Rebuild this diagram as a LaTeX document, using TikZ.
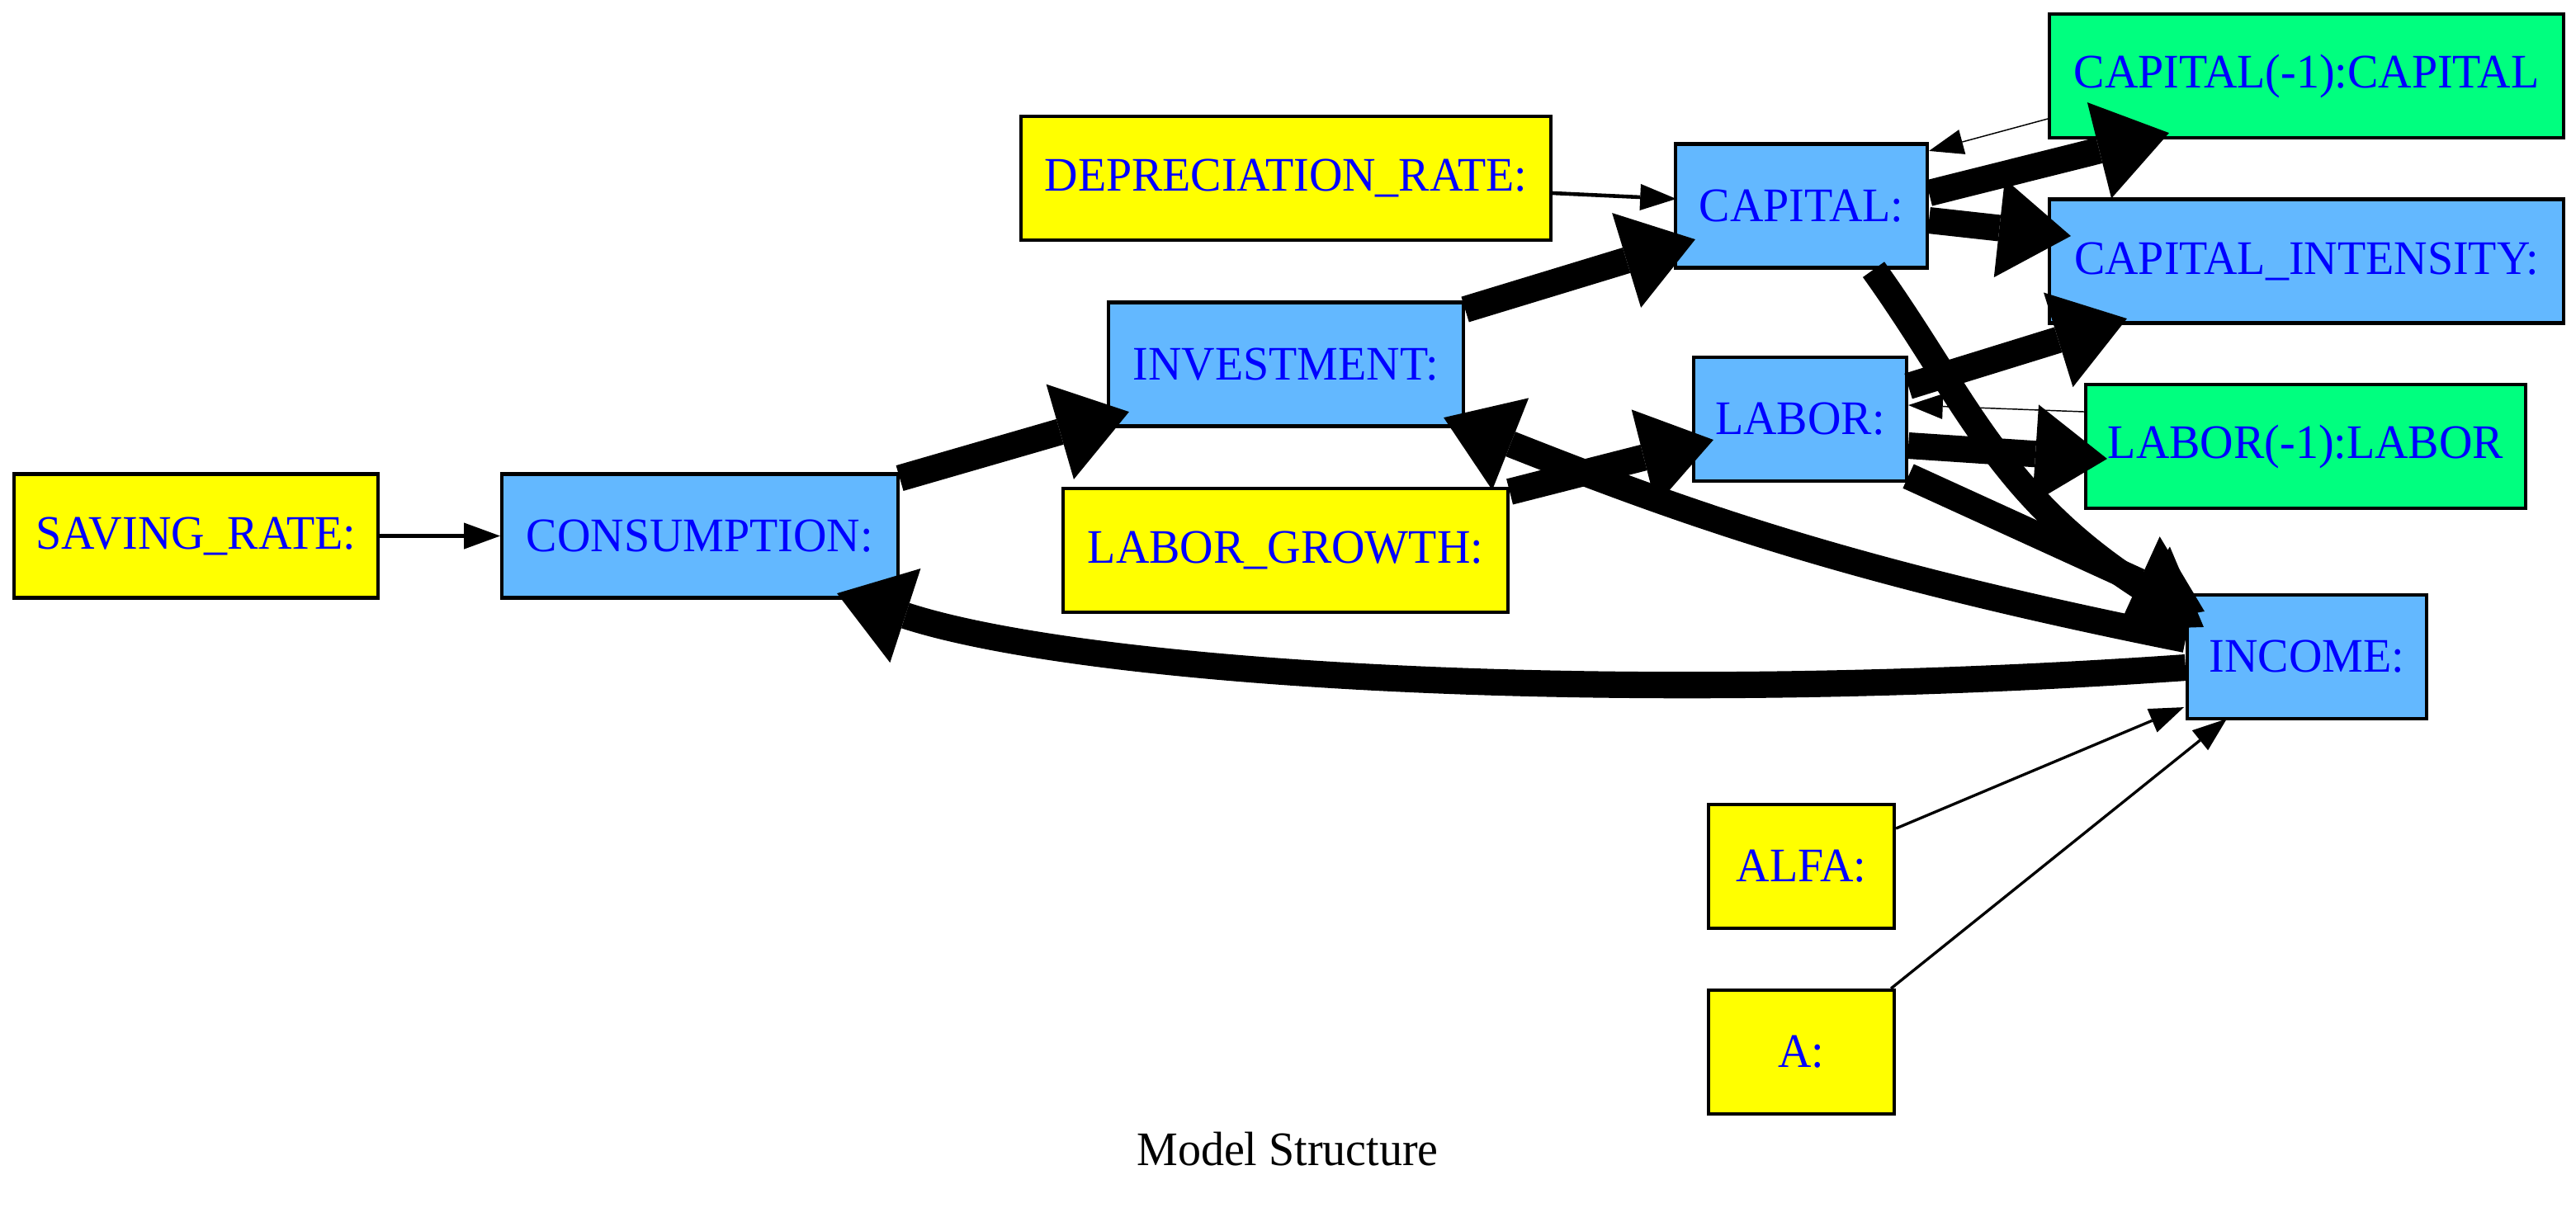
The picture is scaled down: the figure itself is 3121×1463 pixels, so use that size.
\documentclass[tikz,border=0pt]{standalone}
\usepackage{fontspec}
\setmainfont{Liberation Serif}[FakeStretch=0.96]
\usetikzlibrary{arrows.meta}
\definecolor{nyellow}{RGB}{255,255,0}
\definecolor{nblue}{RGB}{99,184,255}
\definecolor{ngreen}{RGB}{0,255,127}
\definecolor{tblue}{RGB}{0,0,255}
\begin{document}
\begin{tikzpicture}[x=0.24pt,y=-0.24pt,
  box/.style={draw=black, line width=1pt, minimum height=36pt, inner sep=0pt,
    font=\fontsize{14}{16}\selectfont, text=tblue},
  ybox/.style={box, fill=nyellow},
  bbox/.style={box, fill=nblue},
  gbox/.style={box, fill=ngreen},
  bigarrow/.style={line width=7.7pt, -{Triangle[length=20.9pt,width=28.8pt,line width=0pt]}},
  smallarrow/.style={line width=1.1pt, -{Triangle[length=10.5pt,width=7.7pt,line width=0pt]}},
  lightarrow/.style={line width=0.8pt, -{Triangle[length=10pt,width=7.4pt,line width=0pt]}},
  hairarrow/.style={line width=0.35pt, -{Triangle[length=10pt,width=7.4pt,line width=0pt]}}
]
\useasboundingbox[fill=white] (0,0) rectangle (3121,1463);

% nodes
\node[ybox, minimum width=105.84pt] (sr)   at (237.5,649.5) {SAVING\_RATE:};
\node[bbox, minimum width=115.2pt]  (cons) at (848,649.5)   {CONSUMPTION:};
\node[ybox, minimum width=154.08pt] (dep)  at (1558,216)    {DEPRECIATION\_RATE:};
\node[bbox, minimum width=103.2pt]  (inv)  at (1558,441.5)  {INVESTMENT:};
\node[ybox, minimum width=129.36pt] (lg)   at (1557.5,667)  {LABOR\_GROWTH:};
\node[bbox, minimum width=73.2pt]   (cap)  at (2182.5,249.5){CAPITAL:};
\node[bbox, minimum width=61.92pt]  (lab)  at (2181,508)    {LABOR:};
\node[gbox, minimum width=149.52pt] (capl) at (2794.5,92)   {CAPITAL(-1):CAPITAL};
\node[bbox, minimum width=149.52pt] (ci)   at (2794.5,316.5){CAPITAL\_INTENSITY:};
\node[gbox, minimum width=127.92pt] (labl) at (2793.5,541)  {LABOR(-1):LABOR};
\node[bbox, minimum width=69.6pt]   (inc)  at (2795,796)    {INCOME:};
\node[ybox, minimum width=54pt]     (alfa) at (2182.5,1050) {ALFA:};
\node[ybox, minimum width=54pt]     (a)    at (2182.5,1275) {A:};
\node[font=\fontsize{14}{16}\selectfont] (title) at (1560,1393) {Model Structure};

% thin edges
\draw[smallarrow] (sr.east) -- (cons.west);
\draw[smallarrow] ([shift={(0,18)}]dep.east) -- ([shift={(3,-8.5)}]cap.west);
\draw[hairarrow] ([shift={(0,52)}]capl.west) -- ([shift={(0,10.5)}]cap.north east);
\draw[hairarrow] ([shift={(0,-42)}]labl.west) -- ([shift={(0,-17)}]lab.east);
\draw[lightarrow] ([shift={(0,-46)}]alfa.east) -- ([shift={(-2,-16)}]inc.south west);
\draw[lightarrow] ([shift={(-6,0)}]a.north east) -- ([shift={(50,-2)}]inc.south west);

% thick edges
\draw[bigarrow] ([shift={(0,-70)}]cons.east) -- ([shift={(27,-19.5)}]inv.south west);
\draw[bigarrow] ([shift={(0,-66.5)}]inv.east) -- ([shift={(26,-36.5)}]cap.south west);
\draw[bigarrow] ([shift={(0,-15.5)}]cap.east) -- ([shift={(147,-8)}]capl.south west);
\draw[bigarrow] ([shift={(0,17.5)}]cap.east) -- ([shift={(28,-30.5)}]ci.west);
\draw[bigarrow] ([shift={(0,-40)}]lab.east) -- ([shift={(96,-7.5)}]ci.south west);
\draw[bigarrow] ([shift={(0,32)}]lab.east) -- ([shift={(28,15)}]labl.west);
\draw[bigarrow] ([shift={(0,-8)}]lab.south east) -- ([shift={(23,22)}]inc.north west);
\draw[bigarrow] ([shift={(0,6)}]lg.north east) -- ([shift={(26,25)}]lab.west);
\draw[bigarrow] ([shift={(87.5,0)}]cap.south) .. controls (2380,480) and (2420,600) .. ([shift={(22,41)}]inc.north west);
\draw[bigarrow] ([shift={(0,-21)}]inc.west) .. controls (2248,695) and (2047,624) .. ([shift={(-26,-12.5)}]inv.south east);
\draw[bigarrow] ([shift={(0,13)}]inc.west) .. controls (1948,858) and (1312,816) .. ([shift={(-76,-7.5)}]cons.south east);
\end{tikzpicture}
\end{document}
